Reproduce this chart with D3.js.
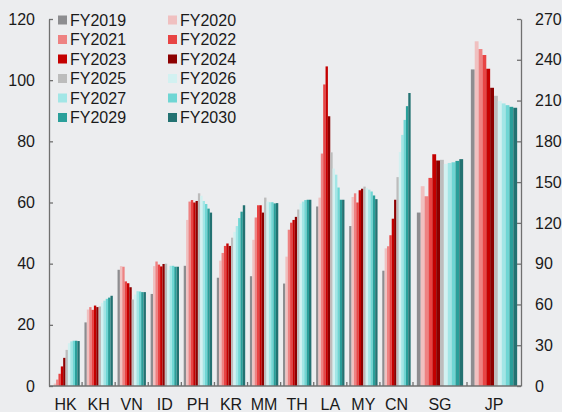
<!DOCTYPE html>
<html><head><meta charset="utf-8">
<script src="https://cdn.jsdelivr.net/npm/d3@7"></script>
<style>
body{margin:0;background:#ecedef;}
svg{display:block;font-family:"Liberation Sans",Arial,sans-serif;}
</style>
</head><body><svg width="562" height="412"></svg>
<script>
const categories = ["HK","KH","VN","ID","PH","KR","MM","TH","LA","MY","CN","SG","JP"];
const leftCategories = ["HK","KH","VN","ID","PH","KR","MM","TH","LA","MY","CN"];
const rightCategories = ["SG","JP"];
const seriesNames = ["FY2019","FY2020","FY2021","FY2022","FY2023","FY2024","FY2025","FY2026","FY2027","FY2028","FY2029","FY2030"];
const seriesColors = ["#8d8d90","#f0c0c0","#ee8282","#e84444","#c40000","#8c0000","#bcbcbc","#d2f1f1","#a2e6e6","#6fd6d4","#2a9f9a","#237272"];

// values per series, in category order (SG and JP read on the right axis)
const fy2019 = [0, 20.8, 38.0, 30.1, 39.3, 35.4, 35.9, 33.5, 58.7, 52.3, 37.7, 127.6, 232.9];
const fy2020 = [0.8, 25.0, 39.2, 39.2, 54.3, 41.0, 47.8, 42.3, 61.6, 61.8, 45.0, 147.0, 253.6];
const fy2021 = [2.1, 25.8, 39.0, 40.7, 60.3, 43.5, 55.1, 51.1, 76.0, 63.0, 45.7, 139.6, 247.9];
const fy2022 = [4.0, 24.9, 34.2, 39.7, 60.8, 45.8, 59.1, 53.4, 98.6, 60.0, 49.3, 153.1, 243.5];
const fy2023 = [6.4, 26.3, 33.6, 39.1, 60.0, 46.6, 59.1, 54.3, 104.5, 64.0, 54.7, 170.5, 233.4];
const fy2024 = [9.2, 25.8, 32.3, 39.9, 60.5, 45.8, 56.7, 55.3, 88.2, 64.5, 60.9, 165.9, 219.4];
const fy2025 = [11.8, 26.0, 28.3, 40.0, 63.0, 48.5, 61.6, 57.7, 76.4, 65.2, 68.3, 166.4, 213.5];
const fy2026 = [14.0, 27.2, 29.9, 37.9, 62.2, 50.4, 60.3, 59.7, 71.1, 64.7, 76.5, 163.4, 209.6];
const fy2027 = [14.6, 27.9, 31.0, 39.3, 60.5, 52.3, 60.1, 60.3, 69.1, 64.2, 82.1, 164.1, 207.9];
const fy2028 = [14.8, 28.5, 30.9, 39.3, 59.5, 54.9, 60.1, 60.8, 64.9, 63.6, 87.0, 164.6, 206.6];
const fy2029 = [14.8, 28.9, 30.7, 39.0, 58.0, 57.0, 59.7, 60.9, 60.9, 62.3, 91.5, 165.6, 205.4];
const fy2030 = [14.7, 29.5, 30.7, 39.0, 56.7, 59.1, 59.8, 60.9, 60.9, 61.1, 95.8, 166.9, 204.7];
const seriesValues = [fy2019, fy2020, fy2021, fy2022, fy2023, fy2024, fy2025, fy2026, fy2027, fy2028, fy2029, fy2030];

const leftTicks = [0, 20, 40, 60, 80, 100, 120];
const rightTicks = [0, 30, 60, 90, 120, 150, 180, 210, 240, 270];

const svg = d3.select("svg");
const axisColor = "#707070", textColor = "#1a1a1a";
const xStart = 49, xSplit = 413, xEnd = 521, yTop = 19, yBot = 386;

const xLeft = d3.scaleBand().domain(leftCategories).range([xStart, xSplit]);
const xRight = d3.scaleBand().domain(rightCategories).range([xSplit, xEnd]);
const yLeft = d3.scaleLinear().domain([0, 120]).range([yBot, yTop]);
const yRight = d3.scaleLinear().domain([0, 270]).range([yBot, yTop]);
const innerLeft = d3.scaleBand().domain(seriesNames).range([0, xLeft.bandwidth()]).paddingInner(0).paddingOuter(1);
const innerRight = d3.scaleBand().domain(seriesNames).range([0, xRight.bandwidth()]).paddingInner(0).paddingOuter(1);

// bars
const bars = [];
categories.forEach((c, i) => {
  const isRight = rightCategories.includes(c);
  seriesNames.forEach((s, j) => {
    bars.push({c, s, j, v: seriesValues[j][i], right: isRight});
  });
});
svg.append("g").selectAll("rect").data(bars).join("rect")
  .attr("x", d => d.right ? xRight(d.c) + innerRight(d.s) : xLeft(d.c) + innerLeft(d.s))
  .attr("width", d => (d.right ? innerRight : innerLeft).bandwidth())
  .attr("y", d => (d.right ? yRight : yLeft)(d.v))
  .attr("height", d => yBot - (d.right ? yRight : yLeft)(d.v))
  .attr("fill", d => seriesColors[d.j]);

// left axis
const gl = svg.append("g").attr("transform", `translate(${xStart},0)`)
  .call(d3.axisLeft(yLeft).tickValues(leftTicks).tickSizeInner(-4).tickSizeOuter(0).tickPadding(14));
// right axis
const gr = svg.append("g").attr("transform", `translate(${xEnd},0)`)
  .call(d3.axisRight(yRight).tickValues(rightTicks).tickSizeInner(-4).tickSizeOuter(0).tickPadding(14));
// bottom axis labels
const gb1 = svg.append("g").attr("transform", `translate(0,${yBot})`)
  .call(d3.axisBottom(xLeft).tickSize(0).tickPadding(12.6));
const gb2 = svg.append("g").attr("transform", `translate(0,${yBot})`)
  .call(d3.axisBottom(xRight).tickSize(0).tickPadding(12.6));
gb1.select(".domain").remove();
gb2.select(".domain").remove();

[gl, gr, gb1, gb2].forEach(g => {
  g.selectAll("text").attr("font-size", 16).attr("fill", textColor).attr("font-family", '"Liberation Sans",Arial,sans-serif');
  g.selectAll("line").attr("stroke", axisColor).attr("stroke-width", 1.3);
  g.selectAll(".domain").attr("stroke", axisColor).attr("stroke-width", 1.3);
});

// baseline and category boundary ticks
svg.append("line").attr("x1", xStart).attr("x2", xEnd).attr("y1", yBot).attr("y2", yBot)
  .attr("stroke", axisColor).attr("stroke-width", 1.3);
const boundaries = leftCategories.slice(1).map(c => xLeft(c)).concat([xSplit, xRight("JP")]);
svg.append("g").selectAll("line").data(boundaries).join("line")
  .attr("x1", d => d).attr("x2", d => d).attr("y1", yBot).attr("y2", yBot - 4)
  .attr("stroke", axisColor).attr("stroke-width", 1.3);

// legend
const legend = svg.append("g");
seriesNames.forEach((s, j) => {
  const col = j % 2, row = Math.floor(j / 2);
  const lx = 58 + col * 110, ly = 20 + row * 19.5;
  legend.append("rect").attr("x", lx).attr("y", ly - 4.5).attr("width", 9).attr("height", 9).attr("fill", seriesColors[j]);
  legend.append("text").attr("x", lx + 12).attr("y", ly).attr("dy", "0.35em")
    .attr("font-size", 16).attr("fill", textColor).text(s);
});
</script>
</body></html>
